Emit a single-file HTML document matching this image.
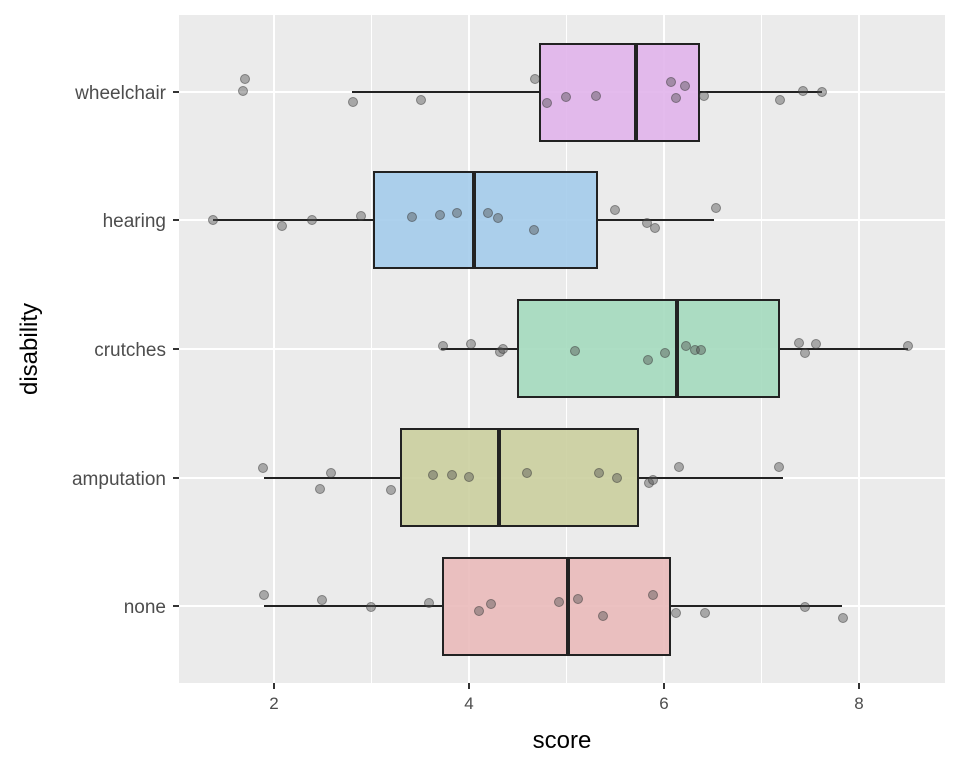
<!DOCTYPE html>
<html><head><style>body{margin:0;background:#fff}svg{display:block}</style></head><body>
<svg width="960" height="768" xmlns="http://www.w3.org/2000/svg" font-family="Liberation Sans, sans-serif">
<rect x="179" y="15" width="766" height="668" fill="#EBEBEB"/>
<g stroke="#fff" stroke-width="1"><line x1="371.5" y1="15" x2="371.5" y2="683"/><line x1="566.5" y1="15" x2="566.5" y2="683"/><line x1="761.5" y1="15" x2="761.5" y2="683"/></g>
<g stroke="#fff" stroke-width="2"><line x1="274" y1="15" x2="274" y2="683"/><line x1="469" y1="15" x2="469" y2="683"/><line x1="664" y1="15" x2="664" y2="683"/><line x1="859" y1="15" x2="859" y2="683"/>
<line x1="179" y1="92" x2="945" y2="92"/><line x1="179" y1="220" x2="945" y2="220"/><line x1="179" y1="349" x2="945" y2="349"/><line x1="179" y1="478" x2="945" y2="478"/><line x1="179" y1="606" x2="945" y2="606"/></g>
<g stroke="#222" stroke-width="2" fill-opacity="0.88">
<line x1="352" y1="92" x2="540" y2="92"/><line x1="699" y1="92" x2="822" y2="92"/><rect x="540" y="44" width="159" height="97" fill="#E0B2EA"/><line x1="636" y1="44" x2="636" y2="141" stroke-width="4"/>
<line x1="213" y1="220" x2="374" y2="220"/><line x1="597" y1="220" x2="714" y2="220"/><rect x="374" y="172" width="223" height="96" fill="#A2CBEA"/><line x1="474" y1="172" x2="474" y2="268" stroke-width="4"/>
<line x1="441" y1="349" x2="518" y2="349"/><line x1="779" y1="349" x2="908" y2="349"/><rect x="518" y="300" width="261" height="97" fill="#A2DABC"/><line x1="677" y1="300" x2="677" y2="397" stroke-width="4"/>
<line x1="264" y1="478" x2="401" y2="478"/><line x1="638" y1="478" x2="783" y2="478"/><rect x="401" y="429" width="237" height="97" fill="#CACE9C"/><line x1="499" y1="429" x2="499" y2="526" stroke-width="4"/>
<line x1="264" y1="606" x2="443" y2="606"/><line x1="670" y1="606" x2="842" y2="606"/><rect x="443" y="558" width="227" height="97" fill="#E9B8B8"/><line x1="568" y1="558" x2="568" y2="655" stroke-width="4"/>
</g>
<g fill="#555" fill-opacity="0.45" stroke="#333" stroke-opacity="0.5">
<circle cx="245" cy="79" r="4.5"/><circle cx="243" cy="91" r="4.5"/><circle cx="353" cy="102" r="4.5"/><circle cx="421" cy="100" r="4.5"/><circle cx="535" cy="79" r="4.5"/><circle cx="547" cy="103" r="4.5"/><circle cx="566" cy="97" r="4.5"/><circle cx="596" cy="96" r="4.5"/><circle cx="671" cy="82" r="4.5"/><circle cx="685" cy="86" r="4.5"/><circle cx="676" cy="98" r="4.5"/><circle cx="704" cy="96" r="4.5"/><circle cx="780" cy="100" r="4.5"/><circle cx="803" cy="91" r="4.5"/><circle cx="822" cy="92" r="4.5"/>
<circle cx="213" cy="220" r="4.5"/><circle cx="282" cy="226" r="4.5"/><circle cx="312" cy="220" r="4.5"/><circle cx="361" cy="216" r="4.5"/><circle cx="412" cy="217" r="4.5"/><circle cx="440" cy="215" r="4.5"/><circle cx="457" cy="213" r="4.5"/><circle cx="488" cy="213" r="4.5"/><circle cx="498" cy="218" r="4.5"/><circle cx="534" cy="230" r="4.5"/><circle cx="615" cy="210" r="4.5"/><circle cx="647" cy="223" r="4.5"/><circle cx="655" cy="228" r="4.5"/><circle cx="716" cy="208" r="4.5"/>
<circle cx="443" cy="346" r="4.5"/><circle cx="471" cy="344" r="4.5"/><circle cx="500" cy="352" r="4.5"/><circle cx="503" cy="349" r="4.5"/><circle cx="575" cy="351" r="4.5"/><circle cx="648" cy="360" r="4.5"/><circle cx="665" cy="353" r="4.5"/><circle cx="686" cy="346" r="4.5"/><circle cx="695" cy="350" r="4.5"/><circle cx="701" cy="350" r="4.5"/><circle cx="799" cy="343" r="4.5"/><circle cx="805" cy="353" r="4.5"/><circle cx="816" cy="344" r="4.5"/><circle cx="908" cy="346" r="4.5"/>
<circle cx="263" cy="468" r="4.5"/><circle cx="320" cy="489" r="4.5"/><circle cx="331" cy="473" r="4.5"/><circle cx="391" cy="490" r="4.5"/><circle cx="433" cy="475" r="4.5"/><circle cx="452" cy="475" r="4.5"/><circle cx="469" cy="477" r="4.5"/><circle cx="527" cy="473" r="4.5"/><circle cx="599" cy="473" r="4.5"/><circle cx="617" cy="478" r="4.5"/><circle cx="649" cy="483" r="4.5"/><circle cx="653" cy="480" r="4.5"/><circle cx="679" cy="467" r="4.5"/><circle cx="779" cy="467" r="4.5"/>
<circle cx="264" cy="595" r="4.5"/><circle cx="322" cy="600" r="4.5"/><circle cx="371" cy="607" r="4.5"/><circle cx="429" cy="603" r="4.5"/><circle cx="479" cy="611" r="4.5"/><circle cx="491" cy="604" r="4.5"/><circle cx="559" cy="602" r="4.5"/><circle cx="578" cy="599" r="4.5"/><circle cx="603" cy="616" r="4.5"/><circle cx="653" cy="595" r="4.5"/><circle cx="676" cy="613" r="4.5"/><circle cx="705" cy="613" r="4.5"/><circle cx="805" cy="607" r="4.5"/><circle cx="843" cy="618" r="4.5"/>
</g>
<g stroke="#333" stroke-width="2">
<line x1="173" y1="92" x2="179" y2="92"/><line x1="173" y1="220" x2="179" y2="220"/><line x1="173" y1="349" x2="179" y2="349"/><line x1="173" y1="478" x2="179" y2="478"/><line x1="173" y1="606" x2="179" y2="606"/>
<line x1="274" y1="683" x2="274" y2="689"/><line x1="469" y1="683" x2="469" y2="689"/><line x1="664" y1="683" x2="664" y2="689"/><line x1="859" y1="683" x2="859" y2="689"/>
</g>
<g fill="#4D4D4D" font-size="19" text-anchor="end">
<text x="166" y="99">wheelchair</text><text x="166" y="227">hearing</text><text x="166" y="356">crutches</text><text x="166" y="485">amputation</text><text x="166" y="613">none</text>
</g>
<g fill="#4D4D4D" font-size="17" text-anchor="middle">
<text x="274" y="709">2</text><text x="469" y="709">4</text><text x="664" y="709">6</text><text x="859" y="709">8</text>
</g>
<text x="562" y="748" font-size="24" text-anchor="middle">score</text>
<text transform="translate(37,349) rotate(-90)" font-size="24" text-anchor="middle">disability</text>
</svg>
</body></html>
